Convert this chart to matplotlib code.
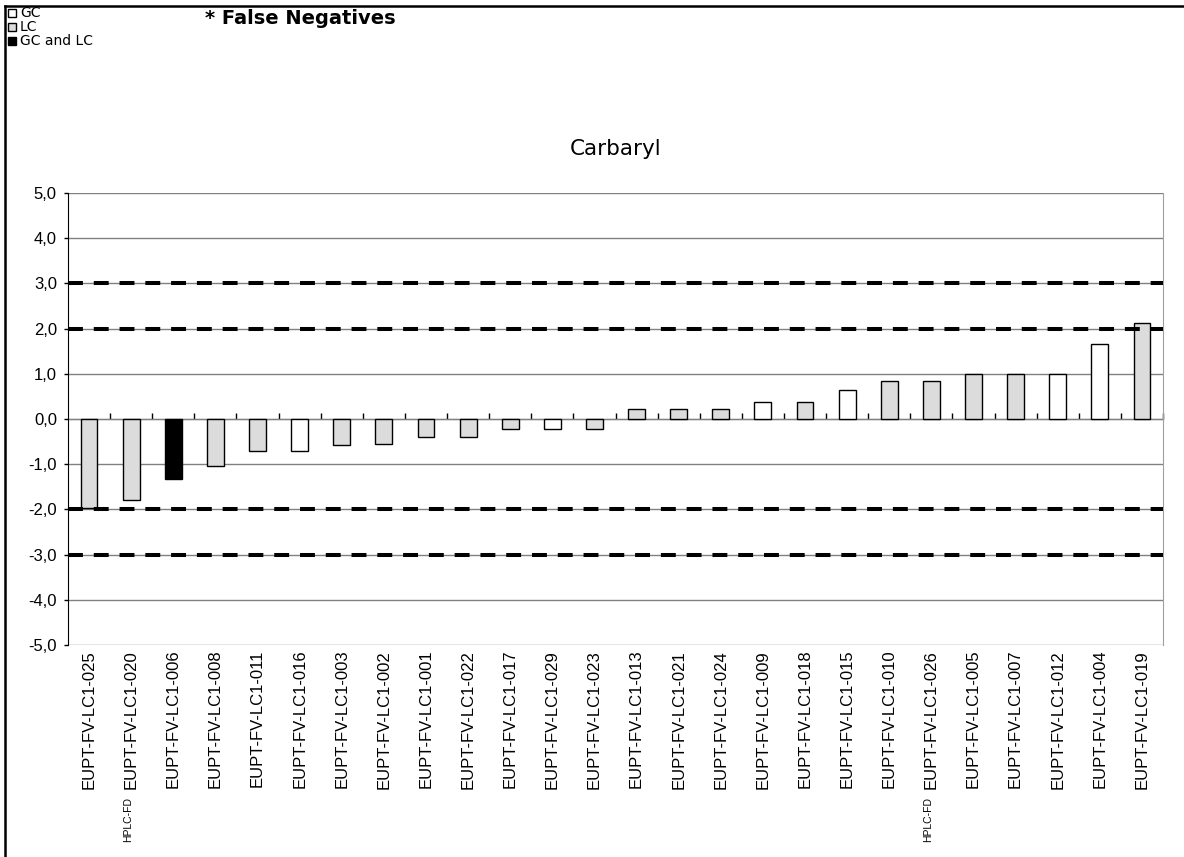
import matplotlib.pyplot as plt
from matplotlib.lines import Line2D
from matplotlib.patches import Rectangle
from matplotlib.ticker import FuncFormatter

# data
labs = ['EUPT-FV-LC1-025', 'EUPT-FV-LC1-020', 'EUPT-FV-LC1-006', 'EUPT-FV-LC1-008',
        'EUPT-FV-LC1-011', 'EUPT-FV-LC1-016', 'EUPT-FV-LC1-003', 'EUPT-FV-LC1-002',
        'EUPT-FV-LC1-001', 'EUPT-FV-LC1-022', 'EUPT-FV-LC1-017', 'EUPT-FV-LC1-029',
        'EUPT-FV-LC1-023', 'EUPT-FV-LC1-013', 'EUPT-FV-LC1-021', 'EUPT-FV-LC1-024',
        'EUPT-FV-LC1-009', 'EUPT-FV-LC1-018', 'EUPT-FV-LC1-015', 'EUPT-FV-LC1-010',
        'EUPT-FV-LC1-026', 'EUPT-FV-LC1-005', 'EUPT-FV-LC1-007', 'EUPT-FV-LC1-012',
        'EUPT-FV-LC1-004', 'EUPT-FV-LC1-019']
z_scores = [-1.97, -1.80, -1.33, -1.03, -0.70, -0.70, -0.58, -0.55, -0.40, -0.40,
            -0.22, -0.22, -0.22, 0.23, 0.23, 0.23, 0.38, 0.38, 0.65, 0.83,
            0.83, 1.00, 1.00, 1.00, 1.65, 2.12]
methods = ['LC', 'LC', 'GC and LC', 'LC', 'LC', 'GC', 'LC', 'LC', 'LC', 'LC',
           'LC', 'GC', 'LC', 'LC', 'LC', 'LC', 'GC', 'LC', 'GC', 'LC',
           'LC', 'LC', 'LC', 'GC', 'GC', 'LC']
hplc_labs = ['EUPT-FV-LC1-020', 'EUPT-FV-LC1-026']
limits = [-3, -2, 2, 3]

color_dict = {'GC': 'white', 'LC': '#dcdcdc', 'GC and LC': 'black'}
font = 'Liberation Sans'

fig = plt.figure(figsize=(11.84, 8.57), dpi=100)
ax = fig.add_axes([68 / 1184, 1 - 645 / 857, (1163 - 68) / 1184, (645 - 193) / 857])

x = list(range(len(labs)))
colors = [color_dict[m] for m in methods]
ax.bar(x, z_scores, width=0.4, color=colors, edgecolor='black', linewidth=1, zorder=3)

# grid lines and limit lines
for y in range(-5, 6):
    ax.axhline(y, color='#808080', linewidth=1, zorder=1)
for y in limits:
    ax.axhline(y, color='black', linewidth=2.9, linestyle=(0, (3.7, 2.7)), zorder=4)

ax.set_xlim(-0.5, len(labs) - 0.5)
ax.set_ylim(-5, 5)
ax.set_yticks(range(-5, 6))
ax.yaxis.set_major_formatter(FuncFormatter(lambda v, p: f'{v:.1f}'.replace('.', ',')))
ax.tick_params(axis='y', direction='out', length=3, width=1, pad=5, labelsize=12)
for t in ax.get_yticklabels():
    t.set_fontfamily(font)

ax.set_xticks(x)
ax.set_xticklabels(labs, rotation=90, fontsize=12, fontfamily=font)
ax.tick_params(axis='x', length=0, pad=3.5)

for s in ['top', 'bottom']:
    ax.spines[s].set_visible(False)
ax.spines['right'].set_color('#a0a0a0')
ax.spines['left'].set_color('black')

# axis line at zero with the category boundary ticks
sec = ax.secondary_xaxis(0.5)
sec.set_xticks([i + 0.5 for i in x])
sec.set_xticklabels([])
sec.tick_params(direction='out', length=4, width=1, color='black')
sec.spines['bottom'].set_color('black')

# HPLC-FD marks under the labels
for lab in hplc_labs:
    i = labs.index(lab)
    ax.text(i - 0.08, (645 - 797) / (645 - 193), 'HPLC-FD', rotation=90, fontsize=7.5,
            fontfamily=font, ha='center', va='top', transform=ax.get_xaxis_transform())

ax.set_title('Carbaryl', fontsize=15.5, fontfamily='DejaVu Sans', pad=27)

# legend and header
items = [('GC', 'white'), ('LC', '#dcdcdc'), ('GC and LC', 'black')]
for k, (name, c) in enumerate(items):
    yc = 1 - (13 + k * 14) / 857
    fig.patches.append(Rectangle((8 / 1184, yc - 4 / 857), 8 / 1184, 8 / 857,
                                 transform=fig.transFigure, facecolor=c,
                                 edgecolor='black', linewidth=1))
    fig.text(20 / 1184, yc, name, fontsize=10, fontfamily='DejaVu Sans', va='center')
fig.text(205 / 1184, 1 - 19 / 857, '* False Negatives', fontsize=14, fontweight='bold',
         fontfamily='DejaVu Sans', va='center')

# page frame
fig.lines.append(Line2D([5 / 1184, 5 / 1184], [0, 1 - 6 / 857], transform=fig.transFigure,
                        color='black', linewidth=1.8))
fig.lines.append(Line2D([5 / 1184, 1], [1 - 6 / 857, 1 - 6 / 857], transform=fig.transFigure,
                        color='black', linewidth=1.8))

fig.savefig('out.png', dpi=100)
